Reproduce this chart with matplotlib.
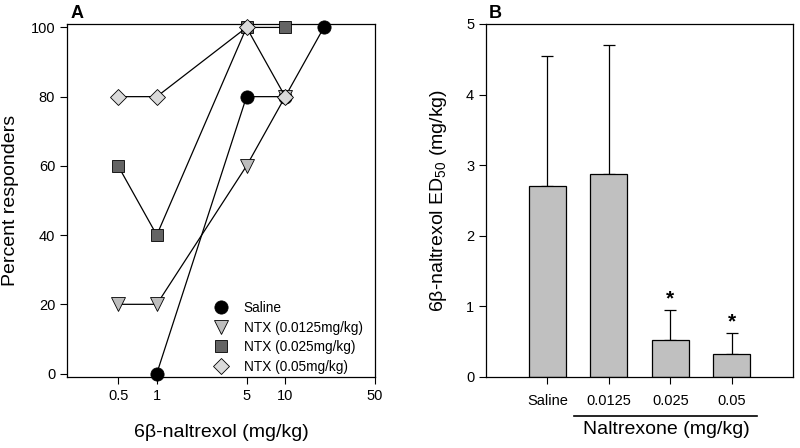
import matplotlib
matplotlib.use("Agg")
import matplotlib.pyplot as plt
import matplotlib.transforms as mtransforms
import numpy as np

plt.rcParams['font.family'] = ['Liberation Sans', 'DejaVu Sans']
plt.rcParams['mathtext.fontset'] = 'custom'
plt.rcParams['mathtext.rm'] = 'Liberation Sans'
plt.rcParams['mathtext.default'] = 'regular'

# Panel A: percent responders vs 6b-naltrexol dose
saline_x = [1, 5, 10, 20]
saline_y = [0, 80, 80, 100]
ntx0125_x = [0.5, 1, 5, 10]
ntx0125_y = [20, 20, 60, 80]
ntx025_x = [0.5, 1, 5, 10]
ntx025_y = [60, 40, 100, 100]
ntx05_x = [0.5, 1, 5, 10]
ntx05_y = [80, 80, 100, 80]

# Panel B: ED50 with upper error bars
groups = ['Saline', '0.0125', '0.025', '0.05']
ed50 = [2.70, 2.87, 0.53, 0.33]
ed50_err = [1.85, 1.83, 0.42, 0.30]
signif = [False, False, True, True]

fig = plt.figure(figsize=(8, 4.48), dpi=100)
axA = fig.add_axes([0.08375, 0.1585, 0.385, 0.788])
axB = fig.add_axes([0.6075, 0.1585, 0.384, 0.788])

series = [
    (saline_x, saline_y, 'o', 'black', 'Saline', 9.5),
    (ntx0125_x, ntx0125_y, 'v', '#bdbdbd', 'NTX (0.0125mg/kg)', 9.5),
    (ntx025_x, ntx025_y, 's', '#636363', 'NTX (0.025mg/kg)', 8.5),
    (ntx05_x, ntx05_y, 'D', '#dadada', 'NTX (0.05mg/kg)', 8),
]
for x, y, m, c, lab, ms in series:
    axA.plot(x, y, color='black', lw=0.9, marker=m, markerfacecolor=c,
             markeredgecolor='black', markeredgewidth=0.6, markersize=ms,
             label=lab, clip_on=False, zorder=3)

axA.set_xscale('log')
axA.set_xlim(0.2, 50)
axA.set_ylim(-1, 101)
axA.set_xticks([0.5, 1, 5, 10, 50])
axA.set_xticklabels(['0.5', '1', '5', '10', '50'])
axA.xaxis.set_minor_locator(matplotlib.ticker.NullLocator())
axA.set_yticks([0, 20, 40, 60, 80, 100])
axA.tick_params(direction='out', length=5, width=0.8, labelsize=10.5)
axA.set_xlabel('6β-naltrexol (mg/kg)', fontsize=14, labelpad=15)
axA.set_ylabel('Percent responders', fontsize=14, labelpad=8)
leg = axA.legend(loc='lower right', frameon=False, fontsize=9.8,
                 bbox_to_anchor=(1.0, -0.025), handlelength=1.2,
                 handletextpad=1.1, labelspacing=0.4)
for h in leg.legend_handles:
    h.set_linestyle('')
axA.text(0.01, 1.005, 'A', transform=axA.transAxes, fontsize=13,
         fontweight='bold', va='bottom')

# Panel B
xpos = np.arange(1, len(groups) + 1)
axB.bar(xpos, ed50, width=0.6, color='#c0c0c0', edgecolor='black',
        linewidth=0.9, zorder=2)
axB.errorbar(xpos, ed50, yerr=[np.zeros(len(ed50)), ed50_err], fmt='none',
             ecolor='black', elinewidth=0.9, capsize=4, capthick=0.9, zorder=1)
for xi, v, e, s in zip(xpos, ed50, ed50_err, signif):
    if s:
        axB.text(xi, v + e + 0.02, '*', ha='center', va='bottom',
                 fontsize=15, fontweight='bold')
axB.set_xlim(0, 5)
axB.set_ylim(0, 5)
axB.set_xticks(xpos)
axB.set_xticklabels(groups, fontsize=9.5)
axB.set_yticks([0, 1, 2, 3, 4, 5])
axB.tick_params(direction='out', length=5, width=0.8, labelsize=10.5)
axB.tick_params(axis='x', pad=7)
axB.set_ylabel('6β-naltrexol ED$_{50}$ (mg/kg)', fontsize=14, labelpad=12)

trans = mtransforms.blended_transform_factory(axB.transData, axB.transAxes)
axB.plot([1.44, 4.41], [-0.11, -0.11], color='black', lw=1.2,
         transform=trans, clip_on=False)
axB.text(2.93, -0.125, 'Naltrexone (mg/kg)', transform=trans, ha='center',
         va='top', fontsize=14)
axB.text(0.01, 1.005, 'B', transform=axB.transAxes, fontsize=13,
         fontweight='bold', va='bottom')

for ax in (axA, axB):
    for sp in ax.spines.values():
        sp.set_linewidth(0.9)

fig.savefig('out.png', dpi=100)
